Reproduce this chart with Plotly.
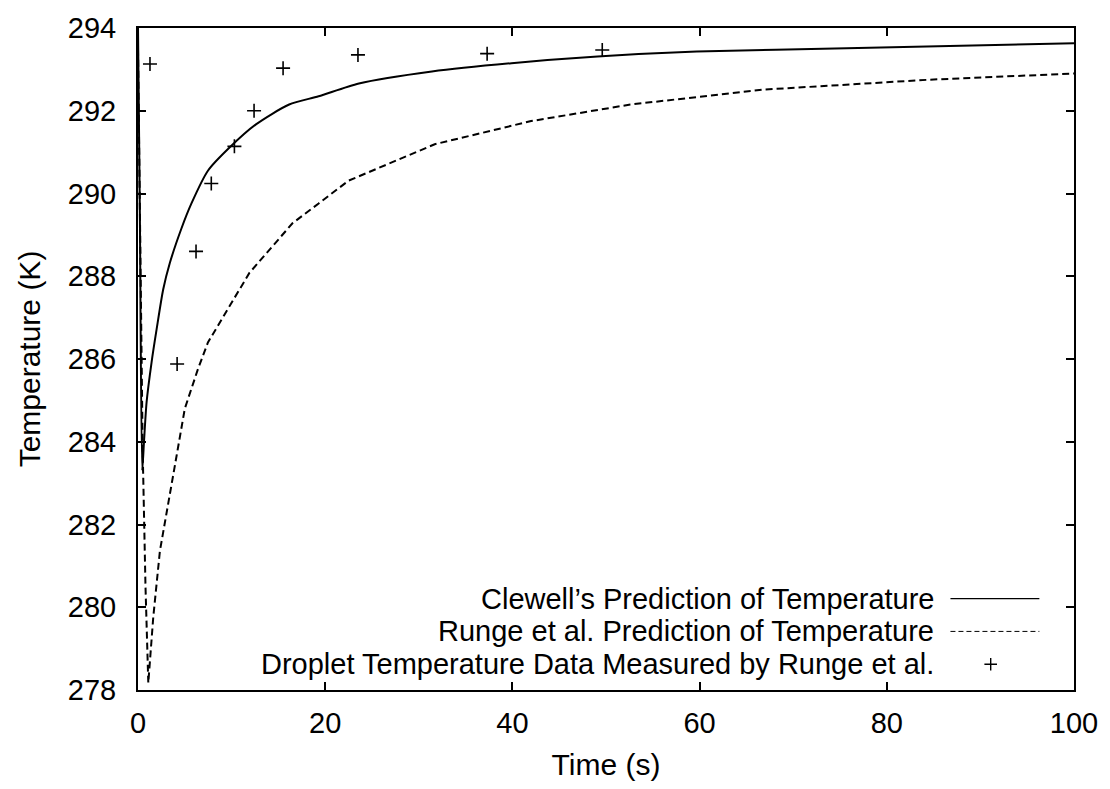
import plotly.graph_objects as go

# Clewell's predicted droplet temperature
clewell_t = [0.0, 0.2, 0.45, 0.64, 0.92, 1.45, 1.99, 2.69, 3.40, 4.65, 5.71,
             7.47, 9.78, 12.6, 16.15, 19.3, 23.6, 31.4, 39.9, 49.1, 59.7, 75.7, 100.0]
clewell_T = [294.0, 289.5, 283.3, 284.0, 284.96, 285.92, 286.72, 287.68, 288.32,
             289.16, 289.76, 290.55, 291.11, 291.67, 292.15, 292.35, 292.66, 292.95,
             293.15, 293.31, 293.43, 293.51, 293.63]

# Runge et al. predicted droplet temperature
runge_t = [0.0, 0.3, 0.5, 0.8, 1.1, 1.63, 2.34, 4.2, 5.0, 6.41, 7.47, 11.9,
           16.5, 19.3, 22.5, 31.7, 42.0, 52.6, 66.8, 84.5, 100.0]
runge_T = [293.5, 288.0, 283.8, 280.5, 278.17, 279.76, 281.36, 283.76, 284.8,
           285.76, 286.4, 288.08, 289.28, 289.76, 290.31, 291.19, 291.75, 292.15,
           292.51, 292.75, 292.9]

# Droplet temperature measured by Runge et al.
meas_t = [1.28, 4.18, 6.2, 7.83, 10.3, 12.4, 15.5, 23.5, 37.3, 49.6]
meas_T = [293.13, 285.88, 288.6, 290.24, 291.14, 292.0, 293.03, 293.35, 293.38, 293.47]

x_ticks = [0, 20, 40, 60, 80, 100]
y_ticks = [278, 280, 282, 284, 286, 288, 290, 292, 294]

legend_labels = ["Clewell\u2019s Prediction of Temperature",
                 "Runge et al. Prediction of Temperature",
                 "Droplet Temperature Data Measured by Runge et al."]

FONT = "Liberation Sans, Arial, Helvetica, sans-serif"
TICK_SIZE = 29
TEXT_SIZE = 30
KEY_SIZE = 29

fig = go.Figure()

fig.add_trace(go.Scatter(x=clewell_t, y=clewell_T, mode="lines",
                         line=dict(color="black", width=2, shape="spline",
                                   smoothing=0.7),
                         showlegend=False))
fig.add_trace(go.Scatter(x=runge_t, y=runge_T, mode="lines",
                         line=dict(color="black", width=2, dash="7px,4px"),
                         showlegend=False))
fig.add_trace(go.Scatter(x=meas_t, y=meas_T, mode="markers",
                         marker=dict(symbol="cross-thin", size=10,
                                     line=dict(color="black", width=1.6)),
                         showlegend=False))

# key: text on the left, sample on the right (drawn on an overlay unit axis)
rows_y = [0.138, 0.0885, 0.039]
fig.add_trace(go.Scatter(x=[0.868, 0.963], y=[rows_y[0]] * 2, mode="lines",
                         xaxis="x2", yaxis="y2",
                         line=dict(color="black", width=1.2), showlegend=False))
fig.add_trace(go.Scatter(x=[0.868, 0.963], y=[rows_y[1]] * 2, mode="lines",
                         xaxis="x2", yaxis="y2",
                         line=dict(color="black", width=1, dash="5px,3px"),
                         showlegend=False))
fig.add_trace(go.Scatter(x=[0.911], y=[rows_y[2]], mode="markers",
                         xaxis="x2", yaxis="y2",
                         marker=dict(symbol="cross-thin", size=9,
                                     line=dict(color="black", width=1.4)),
                         showlegend=False))

for label, ry in zip(legend_labels, rows_y):
    fig.add_annotation(text=label, x=0.852, y=ry, xref="paper", yref="paper",
                       xanchor="right", yanchor="middle", showarrow=False,
                       borderpad=0,
                       font=dict(family=FONT, size=KEY_SIZE, color="black"))

axis_common = dict(showline=True, linecolor="black", linewidth=2, mirror="ticks",
                   ticks="inside", ticklen=8, tickwidth=1.5, tickcolor="black",
                   showgrid=False, zeroline=False,
                   tickfont=dict(family=FONT, size=TICK_SIZE, color="black"),
                   title_font=dict(family=FONT, size=TEXT_SIZE, color="black"))

fig.update_layout(
    width=1110, height=789,
    margin=dict(l=138, r=31, t=23, b=99),
    paper_bgcolor="white", plot_bgcolor="white",
    xaxis=dict(range=[0, 100], tickvals=x_ticks, ticklabelstandoff=6,
               title=dict(text="Time (s)", standoff=16), **axis_common),
    yaxis=dict(range=[278, 294], tickvals=y_ticks, ticklabelstandoff=14,
               title=dict(text="Temperature (K)", standoff=18), **axis_common),
    xaxis2=dict(range=[0, 1], overlaying="x", visible=False),
    yaxis2=dict(range=[0, 1], overlaying="y", visible=False),
)

fig.write_html("out.html")
